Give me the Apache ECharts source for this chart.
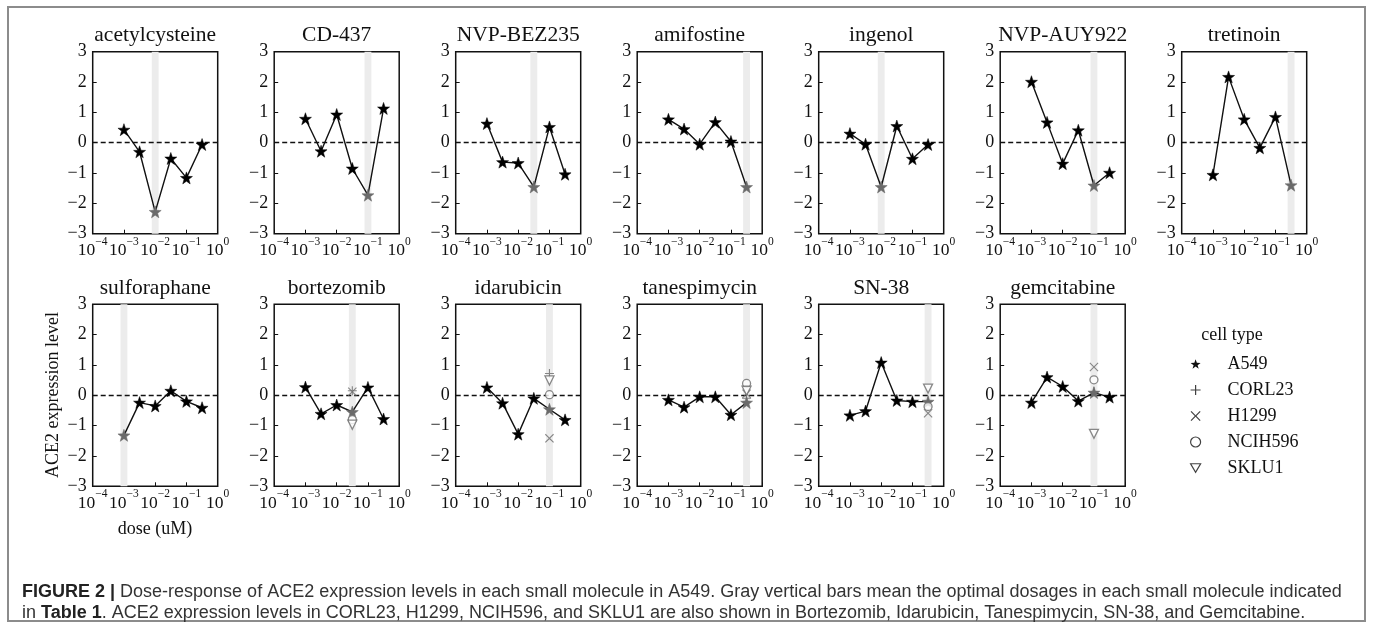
<!DOCTYPE html>
<html><head><meta charset="utf-8">
<script src="https://cdn.jsdelivr.net/npm/echarts@6/dist/echarts.min.js"></script>
<style>html,body{margin:0;padding:0;background:#fff}#c{width:1374px;height:625px}</style>
</head><body><div id="c"></div>
<script>
// ---------------- data ----------------
const drugNames = ['acetylcysteine','CD-437','NVP-BEZ235','amifostine','ingenol','NVP-AUY922','tretinoin',
                   'sulforaphane','bortezomib','idarubicin','tanespimycin','SN-38','gemcitabine'];
const doses = [0.001, 0.00316, 0.01, 0.0316, 0.1, 0.316];   // uM
const acetylcysteine = [0.43, -0.30, -2.28, -0.52, -1.16, -0.06];
const cd437          = [0.79, -0.28, 0.93, -0.85, -1.73, 1.13];
const nvpBez235      = [0.63, -0.64, -0.67, -1.46, 0.52, -1.04];
const amifostine     = [0.77, 0.45, -0.05, 0.68, 0.04, -1.46];
const ingenol        = [0.30, -0.05, -1.46, 0.55, -0.53, -0.06];
const nvpAuy922      = [2.01, 0.67, -0.69, 0.41, -1.41, -0.99];
const tretinoin      = [-1.06, 2.17, 0.77, -0.17, 0.85, -1.40];
const sulforaphane   = [-1.32, -0.24, -0.35, 0.15, -0.20, -0.41];
const bortezomib     = [0.27, -0.61, -0.32, -0.55, 0.26, -0.78];
const idarubicin     = [0.26, -0.26, -1.28, -0.10, -0.46, -0.81];
const tanespimycin   = [-0.15, -0.39, -0.05, -0.05, -0.64, -0.24];
const sn38           = [-0.66, -0.52, 1.08, -0.17, -0.21, -0.21];
const gemcitabine    = [-0.24, 0.60, 0.29, -0.19, 0.09, -0.06];
const a549Values = [acetylcysteine, cd437, nvpBez235, amifostine, ingenol, nvpAuy922, tretinoin,
                    sulforaphane, bortezomib, idarubicin, tanespimycin, sn38, gemcitabine];
const optimalDose = [0.01, 0.1, 0.0316, 0.316, 0.01, 0.1, 0.316, 0.001, 0.0316, 0.1, 0.316, 0.316, 0.1];
// other cell lines, measured at the optimal dose
const otherDrugs = ['bortezomib','idarubicin','tanespimycin','SN-38','gemcitabine'];
const corl23  = [0.15, 0.72, -0.10, -0.20, 0.12];
const h1299   = [0.12, -1.42, 0.05, -0.59, 0.93];
const ncih596 = [-0.80, 0.02, 0.39, -0.37, 0.51];
const sklu1   = [-0.97, 0.49, 0.15, 0.22, -1.27];
const cellTypes = ['A549','CORL23','H1299','NCIH596','SKLU1'];
const otherValues = {CORL23: corl23, H1299: h1299, NCIH596: ncih596, SKLU1: sklu1};

// ---------------- styles ----------------
const SERIF = '"Liberation Serif","DejaVu Serif",serif';
const SANS = '"Liberation Sans", Arial, sans-serif';
const STAR = 'path://M0,-10 L2.35,-3.24 L9.51,-3.09 L3.8,1.24 L5.88,8.09 L0,4 L-5.88,8.09 L-3.8,1.24 L-9.51,-3.09 L-2.35,-3.24 Z';
const PLUS = 'path://M-1.2,-10 L1.2,-10 L1.2,-1.2 L10,-1.2 L10,1.2 L1.2,1.2 L1.2,10 L-1.2,10 L-1.2,1.2 L-10,1.2 L-10,-1.2 L-1.2,-1.2 Z';
const XMARK = 'path://M-10,-8.3 L-8.3,-10 L0,-1.7 L8.3,-10 L10,-8.3 L1.7,0 L10,8.3 L8.3,10 L0,1.7 L-8.3,10 L-10,8.3 L-1.7,0 Z';
const TRI_DOWN = 'path://M-10,-8 L10,-8 L0,9 Z';
const GRAY = '#6a6a6a';
const cellSymbols = {A549: STAR, CORL23: PLUS, H1299: XMARK, NCIH596: 'circle', SKLU1: TRI_DOWN};
const hollow = {NCIH596: true, SKLU1: true};

const LEFT0 = 92.7, STEP = 181.5, W = 125, H = 182, ROWTOP = [51.7, 304.3];
const grids = [], xAxes = [], yAxes = [], series = [], graphics = [];

function supLabel(v) {
  const e = Math.round(Math.log10(v));
  return '{b|10}{s|' + (e < 0 ? '\u2212' + (-e) : e) + '}';
}

drugNames.forEach((name, i) => {
  const row = i < 7 ? 0 : 1, col = i < 7 ? i : i - 7;
  const left = LEFT0 + col * STEP, top = ROWTOP[row];
  grids.push({left, top, width: W, height: H, show: true, borderColor: '#111', borderWidth: 1.5, backgroundColor: 'rgba(0,0,0,0)'});
  xAxes.push({
    type: 'log', logBase: 10, gridIndex: i, min: 1e-4, max: 1, splitNumber: 4,
    axisLine: {show: false, onZero: false}, splitLine: {show: false}, minorTick: {show: false},
    axisTick: {show: true, inside: true, length: 4, lineStyle: {color: '#111', width: 1}},
    axisLabel: {
      margin: 2, color: '#111', showMinLabel: true, showMaxLabel: true,
      formatter: supLabel,
      rich: {
        b: {fontFamily: SERIF, fontSize: 17.5, color: '#111', lineHeight: 24, verticalAlign: 'bottom'},
        s: {fontFamily: SERIF, fontSize: 11.5, color: '#111', lineHeight: 24, verticalAlign: 'top'}
      }
    }
  });
  yAxes.push({
    type: 'value', gridIndex: i, min: -3, max: 3, interval: 1,
    axisLine: {show: false, onZero: false}, splitLine: {show: false},
    axisTick: {show: true, inside: true, length: 4, lineStyle: {color: '#111', width: 1}},
    axisLabel: {margin: 6, fontFamily: SERIF, fontSize: 18, color: '#111',
      formatter: v => v < 0 ? '\u2212' + (-v) : String(v)}
  });
  const od = optimalDose[i];
  const band = Math.pow(10, 0.11);
  series.push({
    type: 'line', name: 'A549', xAxisIndex: i, yAxisIndex: i, z: 3,
    data: doses.map((d, k) => {
      const item = {value: [d, a549Values[i][k]]};
      if (d === od) item.itemStyle = {color: GRAY, borderColor: GRAY};
      return item;
    }),
    symbol: STAR, symbolSize: 12, showAllSymbol: true,
    itemStyle: {color: '#000', borderColor: '#000', borderWidth: 0.5},
    lineStyle: {color: '#111', width: 1.4},
    animation: false, silent: true,
    markLine: {silent: true, symbol: 'none', z: 2, animation: false, label: {show: false},
      lineStyle: {color: '#111', type: [5, 3], width: 1.4}, data: [{yAxis: 0}]},
    markArea: {silent: true, z: 1, animation: false, label: {show: false},
      itemStyle: {color: '#ececec'}, data: [[{xAxis: od / band}, {xAxis: od * band}]]}
  });
  graphics.push({type: 'text', x: left + W / 2, y: top - 16, z: 10,
    style: {text: name, align: 'center', verticalAlign: 'middle', font: '21.5px ' + SERIF, fill: '#111'}});
});

// other cell types
cellTypes.slice(1).forEach(ct => {
  otherDrugs.forEach((dn, j) => {
    const gi = drugNames.indexOf(dn);
    series.push({
      type: 'scatter', name: ct, xAxisIndex: gi, yAxisIndex: gi, z: 4, silent: true, animation: false,
      data: [[optimalDose[gi], otherValues[ct][j]]],
      symbol: cellSymbols[ct], symbolSize: ct === 'NCIH596' ? 8 : 9,
      itemStyle: hollow[ct] ? {color: '#fff', borderColor: GRAY, borderWidth: 1.3} : {color: GRAY}
    });
  });
});

// axis titles, legend title, caption, frame
graphics.push(
  {type: 'text', x: 53, y: 395, rotation: Math.PI / 2,
   style: {text: 'ACE2 expression level', align: 'center', verticalAlign: 'middle', font: '18px ' + SERIF, fill: '#111'}},
  {type: 'text', x: 155, y: 529,
   style: {text: 'dose (uM)', align: 'center', verticalAlign: 'middle', font: '18px ' + SERIF, fill: '#111'}},
  {type: 'text', x: 1232, y: 335,
   style: {text: 'cell type', align: 'center', verticalAlign: 'middle', font: '18px ' + SERIF, fill: '#111'}},
  {type: 'rect', shape: {x: 8, y: 7, width: 1357, height: 614}, style: {fill: 'none', stroke: '#8c8c8c', lineWidth: 2}},
  {type: 'text', x: 22, y: 592,
   style: {text: '{b|FIGURE 2 |} Dose-response of ACE2 expression levels in each small molecule in A549. Gray vertical bars mean the optimal dosages in each small molecule indicated',
     verticalAlign: 'middle', font: '18px ' + SANS, fill: '#333',
     rich: {b: {fontWeight: 'bold', fontSize: 18, fontFamily: SANS, fill: '#222'}}}},
  {type: 'text', x: 22, y: 613,
   style: {text: 'in {b|Table 1}. ACE2 expression levels in CORL23, H1299, NCIH596, and SKLU1 are also shown in Bortezomib, Idarubicin, Tanespimycin, SN-38, and Gemcitabine.',
     verticalAlign: 'middle', font: '18px ' + SANS, fill: '#333',
     rich: {b: {fontWeight: 'bold', fontSize: 18, fontFamily: SANS, fill: '#222'}}}}
);

const legendData = cellTypes.map(ct => ({
  name: ct, icon: cellSymbols[ct],
  itemStyle: hollow[ct] ? {color: '#fff', borderColor: '#111', borderWidth: 1.2} : {color: '#111', borderWidth: 0}
}));

const chart = echarts.init(document.getElementById('c'));
chart.setOption({
  backgroundColor: '#fff',
  animation: false,
  grid: grids, xAxis: xAxes, yAxis: yAxes, series,
  legend: {
    orient: 'vertical', left: 1185, top: 350, itemWidth: 10, itemHeight: 10, itemGap: 8,
    selectedMode: false, data: legendData,
    textStyle: {fontFamily: SERIF, fontSize: 18, color: '#111', lineHeight: 18, padding: [0, 0, 0, 22]}
  },
  graphic: graphics
});
</script>
</body></html>
